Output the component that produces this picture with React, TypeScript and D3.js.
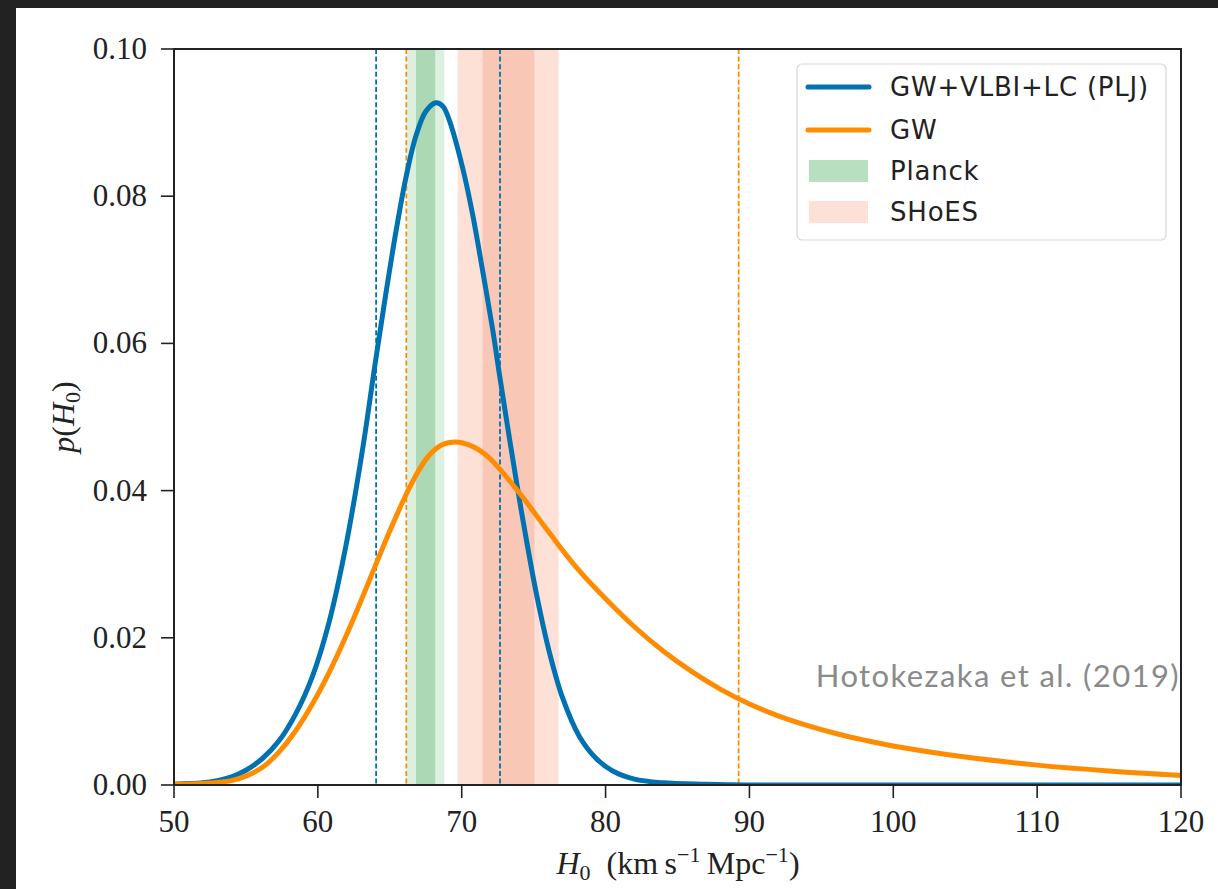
import React from "react";
import * as d3 from "d3";

// ---- data ----
const blueH0 = [50, 52, 53, 54, 55, 56.15, 57.3, 58.47, 59.63, 60.79, 61.95, 63.1, 64.0, 64.73, 65.43, 66.12, 66.82, 67.5, 68.2, 68.7, 69.14, 70.07, 70.76, 71.46, 72.15, 72.66, 73.31, 73.89, 74.47, 75.17, 76.1, 77.02, 78.18, 79.35, 80.5, 82, 84, 87, 90, 100, 120];
const blueP = [0.0001, 0.0003, 0.0006, 0.0011, 0.002, 0.0036, 0.006, 0.0097, 0.0148, 0.0222, 0.0325, 0.0455, 0.0575, 0.0668, 0.0752, 0.0825, 0.0882, 0.0915, 0.0927, 0.0922, 0.0903, 0.0838, 0.0775, 0.0698, 0.0619, 0.0553, 0.0472, 0.0402, 0.0336, 0.0262, 0.018, 0.0118, 0.0066, 0.0036, 0.0019, 0.0008, 0.0003, 0.0001, 0, 0, 0];

const orangeH0 = [50, 52, 54, 55, 56.15, 57.31, 58.47, 59.62, 60.79, 61.95, 63.1, 64.0, 65, 66.12, 67, 67.74, 68.6, 69.6, 70.5, 71.22, 72, 74, 76, 78, 80, 82, 84, 86, 88, 90, 92, 94, 96, 98, 100, 105, 110, 115, 120];
const orangeP = [0.0001, 0.0002, 0.0006, 0.0012, 0.0024, 0.0045, 0.0074, 0.011, 0.0153, 0.0202, 0.0255, 0.0298, 0.0345, 0.0394, 0.0427, 0.0448, 0.0462, 0.0466, 0.0462, 0.0455, 0.0443, 0.0397, 0.0345, 0.0295, 0.0253, 0.0215, 0.0182, 0.0154, 0.013, 0.011, 0.0094, 0.0081, 0.007, 0.0061, 0.0053, 0.0038, 0.0027, 0.0019, 0.0013];

const planckOuter = [66.21, 68.79];
const planckInner = [66.82, 68.16];
const shoesOuter = [69.72, 76.74];
const shoesInner = [71.45, 75.05];

const blueDashed = [64.05, 72.66];
const orangeDashed = [66.15, 89.25];

const xTicks = [50, 60, 70, 80, 90, 100, 110, 120];
const yTicks = [0, 0.02, 0.04, 0.06, 0.08, 0.1];
const yTickLabels = ["0.00", "0.02", "0.04", "0.06", "0.08", "0.10"];

const legendLabels = ["GW+VLBI+LC (PLJ)", "GW", "Planck", "SHoES"];

// ---- styling ----
const W = 1218;
const H = 889;
const BLUE = "#0072B2";
const ORANGE = "#FF8C00";
const GREEN_DARK = "#acd9b4";
const GREEN_LIGHT = "#ddf0e0";
const RED_DARK = "#f9c7b5";
const RED_LIGHT = "#fde0d6";
const AX = "#222";
const SERIF = "'Liberation Serif', 'DejaVu Serif', serif";
const SANS = "'DejaVu Sans', sans-serif";

export default function App() {
  const left = 174;
  const right = 1181;
  const top = 49;
  const bottom = 785;

  const x = d3.scaleLinear().domain([50, 120]).range([left, right]);
  const y = d3.scaleLinear().domain([0, 0.1]).range([bottom, top]);

  const line = d3
    .line<[number, number]>()
    .x((d) => x(d[0]))
    .y((d) => y(d[1]))
    .curve(d3.curveCatmullRom.alpha(0.5));

  const bluePath = line(blueH0.map((h, i) => [h, blueP[i]] as [number, number])) || "";
  const orangePath = line(orangeH0.map((h, i) => [h, orangeP[i]] as [number, number])) || "";

  const band = (r: number[], fill: string, key: string) => (
    <rect key={key} x={x(r[0])} y={top} width={x(r[1]) - x(r[0])} height={bottom - top} fill={fill} />
  );

  const legX = 797;
  const legY = 64;
  const rowY = [87, 130, 171, 212];

  return (
    <div style={{ position: "fixed", left: 0, top: 0, width: W, height: H }}>
      <svg width={W} height={H} viewBox={`0 0 ${W} ${H}`} style={{ display: "block" }}>
        <rect x={0} y={0} width={W} height={H} fill="#222" />
        <rect x={16} y={8} width={W - 16} height={H - 8} fill="#fff" />
        <defs>
          <clipPath id="plotclip">
            <rect x={left} y={top} width={right - left} height={bottom - top} />
          </clipPath>
        </defs>

        {/* shaded bands */}
        {band(planckOuter, GREEN_LIGHT, "po")}
        {band(planckInner, GREEN_DARK, "pi")}
        {band(shoesOuter, RED_LIGHT, "so")}
        {band(shoesInner, RED_DARK, "si")}

        {/* dashed credible-interval lines */}
        {blueDashed.map((v, i) => (
          <line key={"bd" + i} x1={x(v)} x2={x(v)} y1={top} y2={bottom} stroke={BLUE} strokeWidth={1.8} strokeDasharray="5,2.6" />
        ))}
        {orangeDashed.map((v, i) => (
          <line key={"od" + i} x1={x(v)} x2={x(v)} y1={top} y2={bottom} stroke={ORANGE} strokeWidth={1.8} strokeDasharray="5,2.6" />
        ))}

        {/* curves */}
        <g clipPath="url(#plotclip)">
          <path d={bluePath} fill="none" stroke={BLUE} strokeWidth={5} strokeLinejoin="round" />
          <path d={orangePath} fill="none" stroke={ORANGE} strokeWidth={5} strokeLinejoin="round" />
        </g>

        {/* annotation */}
        <text x={1180} y={687} textAnchor="end" fontFamily="Lato, sans-serif" fontSize={31} letterSpacing={1.4} fill="#8a8a8a">
          Hotokezaka et al. (2019)
        </text>

        {/* frame */}
        <rect x={left} y={top} width={right - left} height={bottom - top} fill="none" stroke={AX} strokeWidth={2} />

        {/* x ticks */}
        {xTicks.map((t) => (
          <g key={"xt" + t}>
            <line x1={x(t)} x2={x(t)} y1={bottom} y2={bottom + 13} stroke={AX} strokeWidth={1.6} />
            <text x={x(t)} y={bottom + 47} textAnchor="middle" fontFamily={SERIF} fontSize={31} fill="#222">
              {t}
            </text>
          </g>
        ))}
        {/* y ticks */}
        {yTicks.map((t, i) => (
          <g key={"yt" + t}>
            <line x1={left - 13} x2={left} y1={y(t)} y2={y(t)} stroke={AX} strokeWidth={1.6} />
            <text x={left - 27} y={y(t) + 10} textAnchor="end" fontFamily={SERIF} fontSize={31} fill="#222">
              {yTickLabels[i]}
            </text>
          </g>
        ))}

        {/* axis labels */}
        <text x={678} y={874} textAnchor="middle" fontFamily={SERIF} fontSize={32} fill="#222">
          <tspan fontStyle="italic">H</tspan>
          <tspan fontSize={22} dy={6}>0</tspan>
          <tspan dy={-6}>{"\u2002(km\u2009s"}</tspan>
          <tspan fontSize={22} dy={-12}>{"\u22121"}</tspan>
          <tspan dy={12}>{"\u2009Mpc"}</tspan>
          <tspan fontSize={22} dy={-12}>{"\u22121"}</tspan>
          <tspan dy={12}>)</tspan>
        </text>
        <text transform="translate(74,417) rotate(-90)" textAnchor="middle" fontFamily={SERIF} fontSize={32} fill="#222">
          <tspan fontStyle="italic">p</tspan>
          <tspan>(</tspan>
          <tspan fontStyle="italic">H</tspan>
          <tspan fontSize={22} dy={6}>0</tspan>
          <tspan dy={-6}>)</tspan>
        </text>

        {/* legend */}
        <rect x={legX} y={legY} width={369} height={176} rx={5} fill="#fff" fillOpacity={0.85} stroke="#d8d8d8" strokeWidth={1.2} />
        <line x1={808} x2={869} y1={rowY[0]} y2={rowY[0]} stroke={BLUE} strokeWidth={5} strokeLinecap="round" />
        <line x1={808} x2={869} y1={rowY[1]} y2={rowY[1]} stroke={ORANGE} strokeWidth={5} strokeLinecap="round" />
        <rect x={809} y={rowY[2] - 11} width={59} height={22} fill={GREEN_DARK} fillOpacity={0.85} />
        <rect x={809} y={rowY[3] - 11} width={59} height={22} fill={RED_LIGHT} />
        {legendLabels.map((l, i) => (
          <text key={l} x={890} y={rowY[i] + 9} fontFamily={SANS} fontSize={26} letterSpacing={0.8} fill="#222">
            {l}
          </text>
        ))}
      </svg>
    </div>
  );
}
